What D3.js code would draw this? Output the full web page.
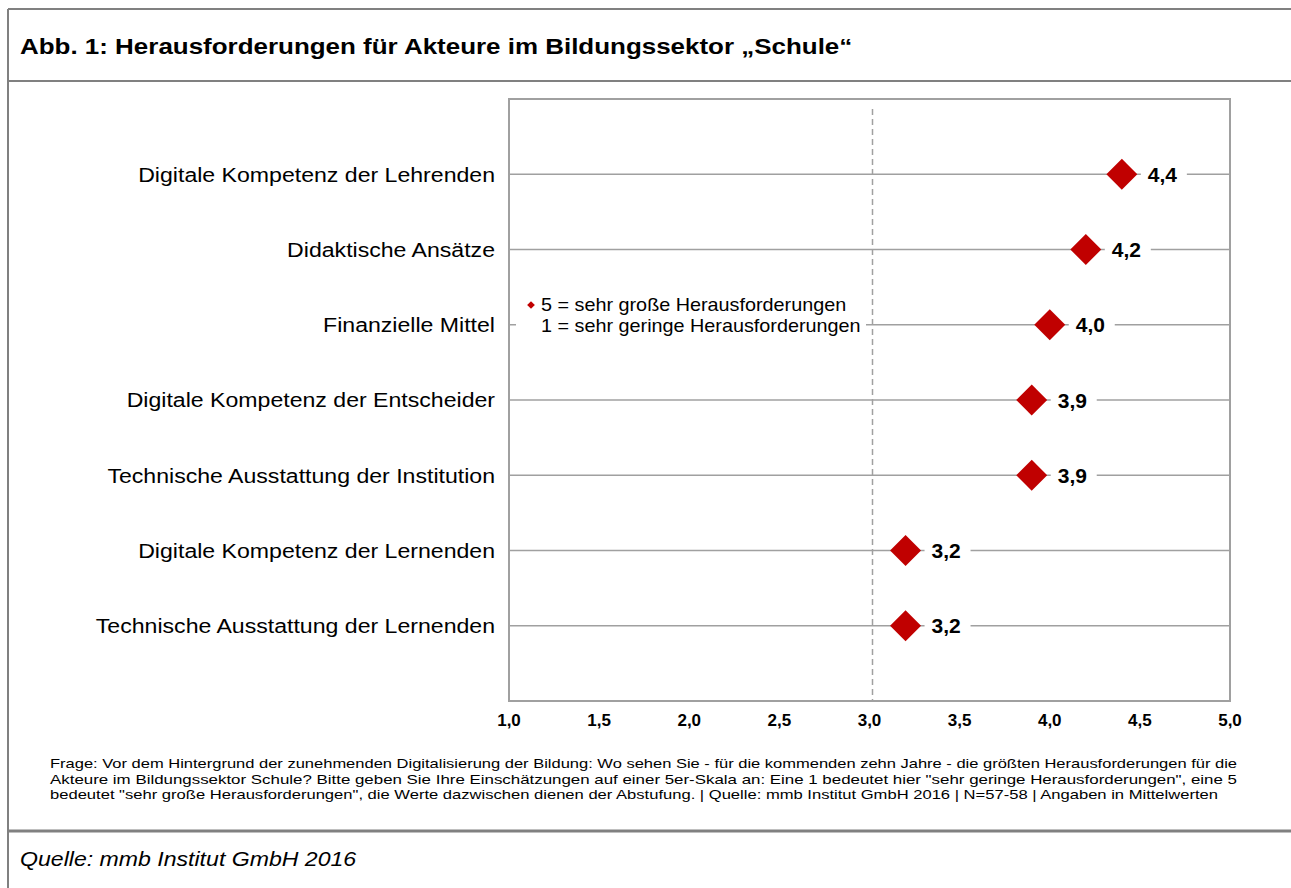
<!DOCTYPE html>
<html>
<head>
<meta charset="utf-8">
<script src="https://cdn.jsdelivr.net/npm/d3@7"></script>
<style>
  body { margin: 0; background: #fff; }
  svg { display: block; font-family: "Liberation Sans", Arial, sans-serif; }
</style>
</head>
<body>
<div id="chart"></div>
<script>
// Data
const categories = [
    'Digitale Kompetenz der Lehrenden',
    'Didaktische Ansätze',
    'Finanzielle Mittel',
    'Digitale Kompetenz der Entscheider',
    'Technische Ausstattung der Institution',
    'Digitale Kompetenz der Lernenden',
    'Technische Ausstattung der Lernenden'
];
const values = [4.4, 4.2, 4.0, 3.9, 3.9, 3.2, 3.2];
const xTicks = [1.0, 1.5, 2.0, 2.5, 3.0, 3.5, 4.0, 4.5, 5.0];
const legendLines = ['5 = sehr große Herausforderungen', '1 = sehr geringe Herausforderungen'];
const noteLines = [
    'Frage: Vor dem Hintergrund  der zunehmenden  Digitalisierung der Bildung: Wo sehen Sie - für die kommenden zehn Jahre - die größten Herausforderungen  für die',
    'Akteure im Bildungssektor Schule? Bitte geben Sie Ihre Einschätzungen auf einer 5er-Skala an: Eine 1 bedeutet hier "sehr geringe Herausforderungen",  eine 5',
    'bedeutet "sehr große Herausforderungen",  die Werte dazwischen dienen der Abstufung. | Quelle: mmb Institut GmbH 2016 | N=57-58 | Angaben in Mittelwerten'
];
const titleText = 'Abb. 1: Herausforderungen für Akteure im Bildungssektor „Schule“';
const sourceText = 'Quelle: mmb Institut GmbH 2016';

const W = 1291, H = 888;
const plot = { left: 509, right: 1230, top: 99, bottom: 701 };
const fmt = v => d3.format('.1f')(v).replace('.', ',');
// the original text is a bit wider than the font, so stretch it horizontally
const stretch = (x, y, sx) => `translate(${x},${y}) scale(${sx},1)`;

const svg = d3.select('#chart').append('svg')
    .attr('width', W).attr('height', H);

// Frame
const frame = svg.append('g').attr('stroke', '#808080').attr('fill', 'none');
frame.append('line').attr('x1', 8).attr('x2', W).attr('y1', 9).attr('y2', 9).attr('stroke-width', 2);
frame.append('line').attr('x1', 8).attr('x2', 8).attr('y1', 9).attr('y2', H).attr('stroke-width', 2);
frame.append('line').attr('x1', 8).attr('x2', W).attr('y1', 81).attr('y2', 81).attr('stroke-width', 2);
frame.append('line').attr('x1', 8).attr('x2', W).attr('y1', 831).attr('y2', 831).attr('stroke-width', 3);

svg.append('text')
    .attr('transform', stretch(20, 54, 1.18))
    .attr('font-size', 22).attr('font-weight', 'bold').attr('fill', '#000')
    .text(titleText);

// Scales
const x = d3.scaleLinear().domain([1, 5]).range([plot.left, plot.right]);
const y = d3.scalePoint().domain(categories).range([plot.top, plot.bottom]).padding(1);

// Plot border
svg.append('rect')
    .attr('x', plot.left).attr('y', plot.top)
    .attr('width', plot.right - plot.left).attr('height', plot.bottom - plot.top)
    .attr('fill', 'none').attr('stroke', '#a0a0a0').attr('stroke-width', 2);

// Grid lines per category
svg.append('g').selectAll('line').data(categories).join('line')
    .attr('x1', plot.left).attr('x2', plot.right)
    .attr('y1', d => y(d)).attr('y2', d => y(d))
    .attr('stroke', '#a0a0a0').attr('stroke-width', 1.5);

// Dashed reference at 3,0
svg.append('line')
    .attr('x1', x(3) + 3).attr('x2', x(3) + 3)
    .attr('y1', plot.top + 10).attr('y2', plot.bottom)
    .attr('stroke', '#a0a0a0').attr('stroke-width', 1.5)
    .attr('stroke-dasharray', '6,4');

// Legend (white box over the grid line)
const lg = svg.append('g');
lg.append('rect').attr('x', 516).attr('y', 292).attr('width', 350).attr('height', 50).attr('fill', '#fff');
lg.append('path')
    .attr('d', d3.symbol(d3.symbolSquare, 30)())
    .attr('transform', 'translate(531,305) rotate(45)')
    .attr('fill', '#c00000');
lg.selectAll('text').data(legendLines).join('text')
    .attr('transform', (d, i) => stretch(541, 311 + i * 21, 1.1))
    .attr('font-size', 18).attr('fill', '#000')
    .text(d => d);

// Category labels
svg.append('g').selectAll('text').data(categories).join('text')
    .attr('transform', d => stretch(495, y(d), 1.1))
    .attr('dy', '0.35em')
    .attr('text-anchor', 'end')
    .attr('font-size', 21).attr('fill', '#000')
    .text(d => d);

// Points
const pts = svg.append('g').selectAll('g').data(categories).join('g')
    .attr('transform', (d, i) => `translate(${x(values[i])},${y(d)})`);
pts.append('rect')
    .attr('x', 19).attr('y', -14).attr('width', 46).attr('height', 28)
    .attr('fill', '#fff');
pts.append('path')
    .attr('d', d3.symbol(d3.symbolSquare, 480)())
    .attr('transform', 'rotate(45)')
    .attr('fill', '#c00000');
pts.append('text')
    .attr('x', 26).attr('dy', '0.36em')
    .attr('font-size', 21).attr('font-weight', 'bold').attr('fill', '#000')
    .text((d, i) => fmt(values[i]));

// X axis tick labels
svg.append('g').selectAll('text').data(xTicks).join('text')
    .attr('x', d => x(d)).attr('y', 726)
    .attr('text-anchor', 'middle')
    .attr('font-size', 17).attr('font-weight', 'bold').attr('fill', '#000')
    .text(d => fmt(d));

// Footnote
svg.append('g').selectAll('text').data(noteLines).join('text')
    .attr('x', 50).attr('y', (d, i) => 768 + i * 15.5)
    .attr('font-size', 13).attr('fill', '#000')
    .attr('textLength', (d, i) => i < 2 ? 1187 : 1168)
    .attr('lengthAdjust', 'spacingAndGlyphs')
    .text(d => d);

svg.append('text')
    .attr('transform', stretch(20, 866, 1.1))
    .attr('font-size', 21).attr('font-style', 'italic').attr('fill', '#000')
    .text(sourceText);
</script>
</body>
</html>
